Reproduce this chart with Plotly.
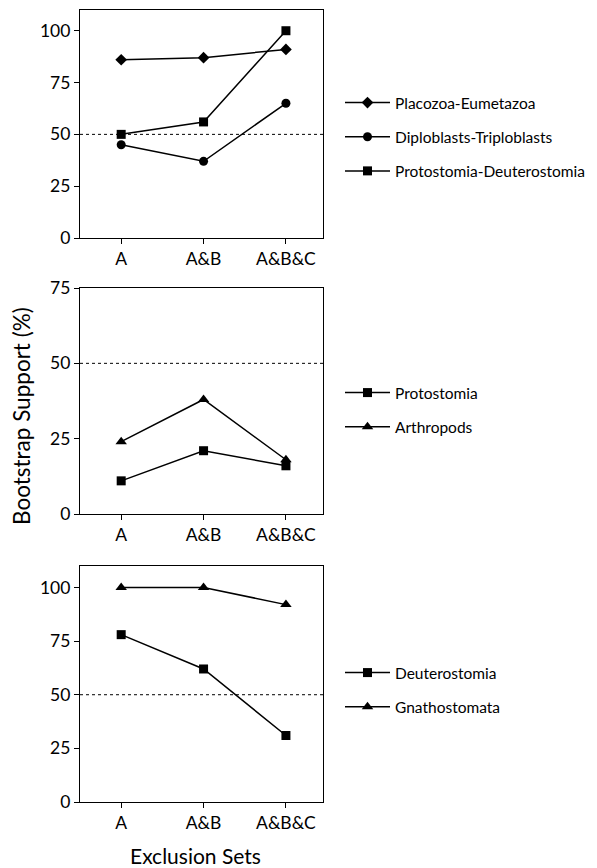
import plotly.graph_objects as go

categories = ["A", "A&B", "A&B&C"]

# Panel 1
placozoa = [86, 87, 91]
diploblasts = [45, 37, 65]
proto_deut = [50, 56, 100]
# Panel 2
protostomia = [11, 21, 16]
arthropods = [24, 38, 18]
# Panel 3
deuterostomia = [78, 62, 31]
gnathostomata = [100, 100, 92]

W, H = 597, 868
FONT = "Lato"

def px(x):
    return x / W

def py(y):
    return 1 - y / H

fig = go.Figure()

def add(name, y, symbol, size, xa, ya, legend):
    fig.add_trace(go.Scatter(
        x=categories, y=y, name=name, mode="lines+markers",
        line=dict(color="black", width=1.5),
        marker=dict(symbol=symbol, size=size, color="black"),
        xaxis=xa, yaxis=ya, legend=legend, legendgroup=name,
    ))

add("Placozoa-Eumetazoa", placozoa, "diamond", 9, "x", "y", "legend")
add("Diploblasts-Triploblasts", diploblasts, "circle", 9, "x", "y", "legend")
add("Protostomia-Deuterostomia", proto_deut, "square", 9, "x", "y", "legend")
add("Protostomia", protostomia, "square", 9, "x2", "y2", "legend2")
add("Arthropods", arthropods, "triangle-up", 10, "x2", "y2", "legend2")
add("Deuterostomia", deuterostomia, "square", 9, "x3", "y3", "legend3")
add("Gnathostomata", gnathostomata, "triangle-up", 10, "x3", "y3", "legend3")

xdom = [px(80), px(323)]
panels = [
    ("", "", [py(238), py(10)], [0, 110], [0, 25, 50, 75, 100]),
    ("2", "2", [py(514), py(288)], [0, 75], [0, 25, 50, 75]),
    ("3", "3", [py(802), py(566)], [0, 110], [0, 25, 50, 75, 100]),
]
axis_common = dict(showline=True, linecolor="black", linewidth=1.2, mirror=True,
                   ticks="outside", ticklen=5, tickcolor="black", showgrid=False,
                   zeroline=False, automargin=False,
                   tickfont=dict(family=FONT, size=17.5, color="black"))
layout = {}
for xs, ys, yd, yr, tv in panels:
    xa = "xaxis" + xs
    ya = "yaxis" + ys
    layout[xa] = dict(domain=xdom, anchor="y" + ys, range=[-0.5, 2.45],
                      type="category", categoryorder="array", categoryarray=categories,
                      **axis_common)
    layout[ya] = dict(domain=yd, anchor="x" + xs, range=yr, tickvals=tv, **axis_common)
    fig.add_shape(type="line", xref=("x" + xs) + " domain", yref="y" + ys,
                  x0=0, x1=1, y0=50, y1=50,
                  line=dict(color="black", width=1, dash="dot"))

leg_common = dict(xanchor="left", yanchor="top", bgcolor="rgba(0,0,0,0)",
                  font=dict(family=FONT, size=15.5, color="black"),
                  traceorder="grouped", tracegroupgap=11, itemwidth=45)
fig.update_layout(
    width=W, height=H, margin=dict(l=0, r=0, t=0, b=0),
    paper_bgcolor="white", plot_bgcolor="white",
    font=dict(family=FONT, color="black"),
    legend=dict(x=px(340), y=py(86), **leg_common),
    legend2=dict(x=px(340), y=py(376), **leg_common),
    legend3=dict(x=px(340), y=py(656), **leg_common),
    **layout,
)
fig.add_annotation(text="Bootstrap Support (%)", xref="paper", yref="paper",
                   x=px(22), y=py(416), textangle=-90, showarrow=False,
                   xanchor="center", yanchor="middle",
                   font=dict(family=FONT, size=22.5, color="black"))
fig.add_annotation(text="Exclusion Sets", xref="paper", yref="paper",
                   x=px(195), y=py(855), showarrow=False,
                   xanchor="center", yanchor="middle",
                   font=dict(family=FONT, size=21, color="black"))

fig.write_html("out.html", config={"displayModeBar": False},
               post_script="document.body.style.margin='0';document.body.style.overflow='hidden';")
